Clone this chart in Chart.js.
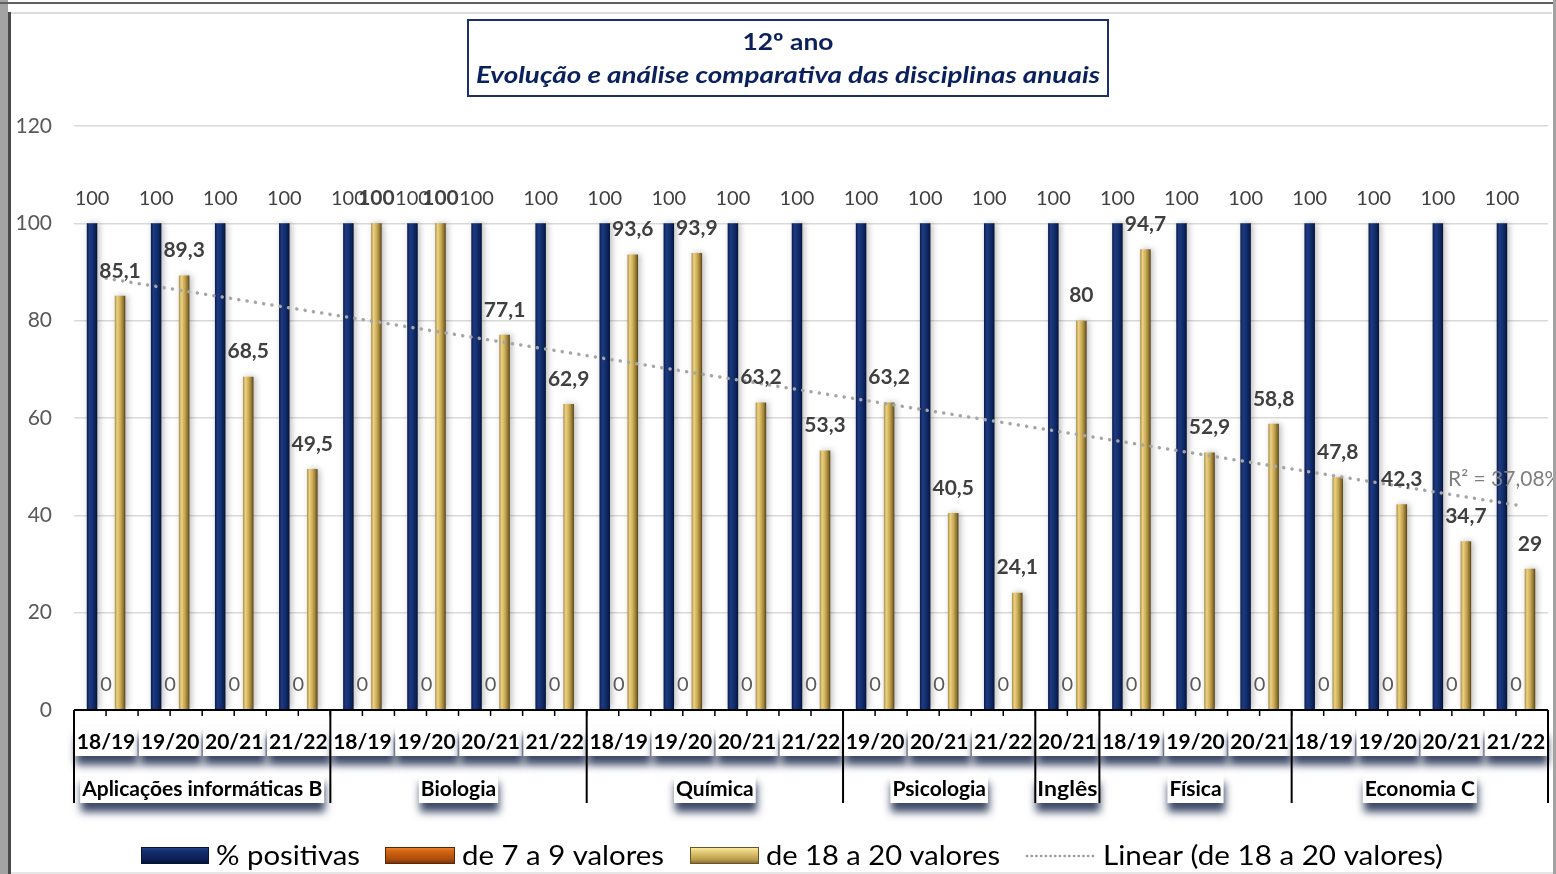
<!DOCTYPE html>
<html><head><meta charset="utf-8">
<script src="https://cdn.jsdelivr.net/npm/chart.js@4.4.1/dist/chart.umd.min.js"></script>
<style>html,body{margin:0;padding:0;background:#fff;overflow:hidden}canvas{display:block}</style>
</head><body>
<canvas id="c" width="1556" height="874"></canvas>
<script>
// ---------- DATA ----------
const yearLabels = ['18/19','19/20','20/21','21/22',
                    '18/19','19/20','20/21','21/22',
                    '18/19','19/20','20/21','21/22',
                    '19/20','20/21','21/22',
                    '20/21',
                    '18/19','19/20','20/21',
                    '18/19','19/20','20/21','21/22'];
const subjectNames = ['Aplicações informáticas B','Biologia','Química','Psicologia','Inglês','Física','Economia C'];
const subjectSpans = [4,4,4,3,1,3,4];
const positivas = [100,100,100,100,100,100,100,100,100,100,100,100,100,100,100,100,100,100,100,100,100,100,100];
const de7a9     = [0,0,0,0,0,0,0,0,0,0,0,0,0,0,0,0,0,0,0,0,0,0,0];
const de18a20   = [85.1,89.3,68.5,49.5,100,100,77.1,62.9,93.6,93.9,63.2,53.3,63.2,40.5,24.1,80,94.7,52.9,58.8,47.8,42.3,34.7,29];
const yTicks    = [0,20,40,60,80,100,120];
const seriesNames = ['% positivas','de 7 a 9 valores','de 18 a 20 valores','Linear (de 18 a 20 valores)'];
const titleLine1 = '12º ano';
const titleLine2 = 'Evolução e análise comparativa das disciplinas anuais';
const r2Text = 'R² = 37,08%';

// linear trendline (least squares over category index), as the spreadsheet computes it
const trend = (function(){
  const n = de18a20.length; let sx=0,sy=0,sxy=0,sxx=0;
  de18a20.forEach((v,i)=>{const x=i+1; sx+=x; sy+=v; sxy+=x*v; sxx+=x*x;});
  const b=(n*sxy-sx*sy)/(n*sxx-sx*sx), a=(sy-b*sx)/n;
  return de18a20.map((v,i)=>a+b*(i+1));
})();

const FONT = 'Lato, "DejaVu Sans", sans-serif';
const CAT_PCT = 0.656, BAR_PCT = 0.75;

function cylFill(stops, fallback){
  return function(ctx){
    const ch = ctx.chart, xs = ch.scales.x;
    if(!xs || ctx.type!=='data' || !ch.chartArea) return fallback;
    const n = ch.data.labels.length;
    const cat = (xs.right - xs.left)/n;
    const slot = cat*CAT_PCT/3, w = slot*BAR_PCT;
    const cx = xs.getPixelForValue(ctx.dataIndex) + (ctx.datasetIndex-1)*slot;
    const g = ch.ctx.createLinearGradient(cx-w/2,0,cx+w/2,0);
    stops.forEach(s=>g.addColorStop(s[0],s[1]));
    return g;
  };
}
const navyStops = [[0,'#0a1a48'],[0.25,'#1d3a82'],[0.55,'#13306f'],[0.85,'#0b1f55'],[1,'#050f2e']];
const orangeStops = [[0,'#9a4510'],[0.3,'#e07a2a'],[0.7,'#c55a11'],[1,'#6b2e08']];
const goldStops = [[0,'#a88a3e'],[0.22,'#ead386'],[0.55,'#c9a852'],[0.85,'#8a6e2c'],[1,'#4f3e16']];

function fmt(v){ return String(v).replace('.',','); }

function fitText(ctx, text, x, y, target, align){
  const w = ctx.measureText(text).width;
  const s = Math.min(1.25, target/w);
  ctx.save(); ctx.translate(x,y); ctx.scale(s,1);
  ctx.textAlign = align||'left'; ctx.fillText(text,0,0); ctx.restore();
}

function boxLabel(ctx, text, cx, cy, target){
  let w = ctx.measureText(text).width;
  const s = target ? target/w : 1;
  if(target) w = target;
  ctx.save();
  ctx.shadowColor='rgba(28,42,78,0.85)'; ctx.shadowBlur=8; ctx.shadowOffsetX=1; ctx.shadowOffsetY=9;
  ctx.fillStyle='#fff';
  ctx.fillRect(cx-w/2-2, cy-14, w+4, 29);
  ctx.restore();
  ctx.save();
  ctx.fillStyle='#000'; ctx.textAlign='center'; ctx.textBaseline='middle';
  ctx.translate(cx, cy+1); ctx.scale(s,1);
  ctx.fillText(text, 0, 0);
  ctx.restore();
}

const decor = {
  id:'decor',
  beforeDatasetDraw(chart,args){
    if(args.meta.type==='bar'){
      const c=chart.ctx; c.save();
      c.shadowColor='rgba(0,0,0,0.28)'; c.shadowBlur=6; c.shadowOffsetX=2;
    }
  },
  afterDatasetDraw(chart,args){ if(args.meta.type==='bar') chart.ctx.restore(); },
  afterDatasetsDraw(chart){
    const ctx = chart.ctx;
    ctx.save();
    ctx.textAlign='center'; ctx.textBaseline='middle';
    [0,1,2].forEach(di=>{
      const meta = chart.getDatasetMeta(di);
      const vals = chart.data.datasets[di].data;
      if(di===0){ ctx.font='20px '+FONT; ctx.fillStyle='#404040'; }
      else if(di===1){ ctx.font='20px '+FONT; ctx.fillStyle='#595959'; }
      else { ctx.font='bold 21px '+FONT; ctx.fillStyle='#404040'; }
      meta.data.forEach((el,j)=>{ ctx.fillText(fmt(vals[j]), el.x, el.y-25); });
    });
    ctx.font='21px '+FONT; ctx.fillStyle='#7f7f7f'; ctx.textAlign='left';
    ctx.fillText(r2Text, 1448, 479);
    ctx.restore();
  },
  afterDraw(chart){
    const ctx = chart.ctx, xs = chart.scales.x, ca = chart.chartArea;
    ctx.save();
    // category labels
    const n = yearLabels.length, cat = (xs.right-xs.left)/n;
    ctx.font='bold 21px '+FONT;
    yearLabels.forEach((t,i)=> boxLabel(ctx, t, xs.getPixelForValue(i), 741));
    let start=0; const bounds=[xs.left];
    subjectNames.forEach((s,k)=>{
      const l = xs.left + start*cat, r = xs.left + (start+subjectSpans[k])*cat;
      const w = ctx.measureText(s).width;
      boxLabel(ctx, s, (l+r)/2, 788, w > cat*subjectSpans[k]-16 ? cat*subjectSpans[k]-4 : null);
      start += subjectSpans[k]; bounds.push(r);
    });
    // axis line and ticks
    ctx.strokeStyle='#000'; ctx.lineWidth=2;
    ctx.beginPath(); ctx.moveTo(xs.left, ca.bottom); ctx.lineTo(xs.right, ca.bottom); ctx.stroke();
    ctx.lineWidth=1.5;
    for(let i=0;i<=2*n;i++){
      const x = xs.left + i*cat/2;
      ctx.beginPath(); ctx.moveTo(x, ca.bottom); ctx.lineTo(x, ca.bottom+6); ctx.stroke();
    }
    ctx.lineWidth=2;
    bounds.forEach(x=>{ ctx.beginPath(); ctx.moveTo(x, ca.bottom); ctx.lineTo(x, 803); ctx.stroke(); });

    // title box
    ctx.fillStyle='#fff'; ctx.fillRect(468,20,640,76);
    ctx.strokeStyle='#1c2f6b'; ctx.lineWidth=2; ctx.strokeRect(468,20,640,76);
    ctx.fillStyle='#0b215e'; ctx.textBaseline='middle';
    ctx.font='bold 23px '+FONT; fitText(ctx, titleLine1, 788, 43, 91, 'center');
    ctx.font='italic bold 23px '+FONT; fitText(ctx, titleLine2, 788, 76, 624, 'center');

    // legend
    const items = [
      {x:141, w:68, tx:216, tw:144, stops:[[0,'#2c4a94'],[0.25,'#132d6e'],[0.75,'#0b1f55'],[1,'#050f2e']], border:'#061436'},
      {x:385, w:70, tx:462, tw:202, stops:[[0,'#f08a3a'],[0.25,'#d4650f'],[0.75,'#a84a0c'],[1,'#6b2e08']], border:'#5a2606'},
      {x:690, w:69, tx:766, tw:234, stops:[[0,'#fff2a8'],[0.25,'#e8d07a'],[0.75,'#b99a4c'],[1,'#7a6330']], border:'#6b5526'}
    ];
    items.forEach((it,k)=>{
      const g = ctx.createLinearGradient(0,847,0,864);
      it.stops.forEach(s=>g.addColorStop(s[0],s[1]));
      ctx.fillStyle=g; ctx.fillRect(it.x,847,it.w,17);
      ctx.strokeStyle=it.border; ctx.lineWidth=1; ctx.strokeRect(it.x+0.5,847.5,it.w-1,16);
      ctx.fillStyle='#000'; ctx.font='27px '+FONT; ctx.textBaseline='middle';
      fitText(ctx, seriesNames[k], it.tx, 856, it.tw, 'left');
    });
    ctx.strokeStyle='#9a9a9a'; ctx.lineWidth=2.6; ctx.lineCap='round'; ctx.setLineDash([0.1,4.6]);
    ctx.beginPath(); ctx.moveTo(1027,856); ctx.lineTo(1094,856); ctx.stroke(); ctx.setLineDash([]);
    ctx.fillStyle='#000'; ctx.font='27px '+FONT;
    fitText(ctx, seriesNames[3], 1103, 856, 340, 'left');

    // outer frame
    ctx.fillStyle='#a3a3a3'; ctx.fillRect(0,0,8,874);
    ctx.fillStyle='#4a4a4a'; ctx.fillRect(8,12,3,862);
    ctx.fillStyle='#606060'; ctx.fillRect(0,2,1556,2);
    ctx.fillStyle='#dcdcdc'; ctx.fillRect(11,12,1541,2);
    ctx.fillStyle='#a3a3a3'; ctx.fillRect(1553,0,3,874);
    ctx.fillStyle='#e6e6e6'; ctx.fillRect(11,872,1542,2);
    ctx.restore();
  }
};

new Chart(document.getElementById('c'), {
  data:{
    labels: yearLabels,
    datasets:[
      {type:'bar', label:seriesNames[0], data:positivas, backgroundColor:cylFill(navyStops,'#13306f'), categoryPercentage:CAT_PCT, barPercentage:BAR_PCT, order:1},
      {type:'bar', label:seriesNames[1], data:de7a9, backgroundColor:cylFill(orangeStops,'#c55a11'), categoryPercentage:CAT_PCT, barPercentage:BAR_PCT, order:1},
      {type:'bar', label:seriesNames[2], data:de18a20, backgroundColor:cylFill(goldStops,'#c9a852'), categoryPercentage:CAT_PCT, barPercentage:BAR_PCT, order:1},
      {type:'line', label:seriesNames[3], data:trend, borderColor:'#a6a6a6', borderWidth:3.5, borderDash:[0.1,8.3], borderCapStyle:'round', pointRadius:0, fill:false, tension:0, order:-1}
    ]
  },
  options:{
    responsive:false, animation:false, devicePixelRatio:1,
    layout:{padding:{left:0, right:8, top:126, bottom:164}},
    plugins:{legend:{display:false}, title:{display:false}, tooltip:{enabled:false}},
    scales:{
      x:{type:'category', display:false, offset:true},
      y:{min:0, max:120,
         afterFit(s){ s.width = 74; },
         afterBuildTicks(s){ s.ticks = yTicks.map(v=>({value:v})); },
         ticks:{font:{family:FONT, size:21}, color:'#595959', padding:22},
         grid:{color:'#d9d9d9', lineWidth:1.5, drawTicks:false},
         border:{display:false}}
    }
  },
  plugins:[decor]
});
</script>
</body></html>
